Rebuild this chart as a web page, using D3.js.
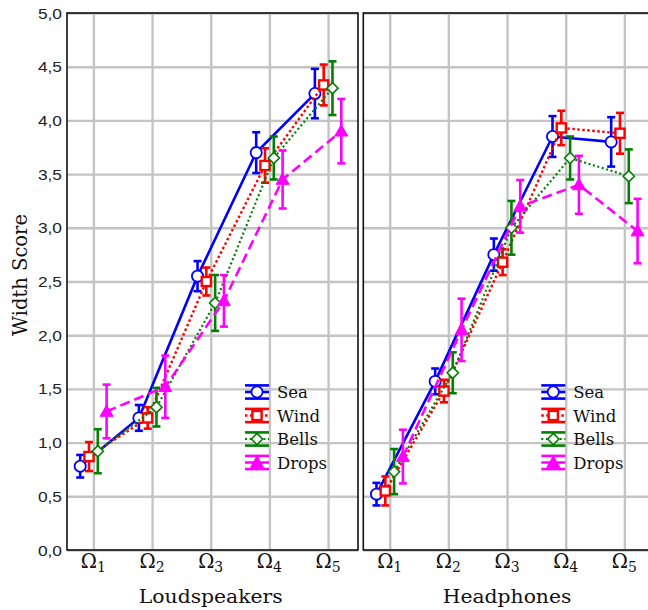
<!DOCTYPE html>
<html><head><meta charset="utf-8">
<script src="https://cdn.jsdelivr.net/npm/d3@7"></script>
<style>body{margin:0;background:#fff;} svg{display:block;}</style>
</head><body>
<svg id="chart" width="648" height="610"></svg>
<script>
// ---- data ----
const categories = ["1","2","3","4","5"]; // Ω subscripts
const panels = ["Loudspeakers","Headphones"];
const seriesNames = ["Sea","Wind","Bells","Drops"];
const yTicks = [0,0.5,1,1.5,2,2.5,3,3.5,4,4.5,5];

const loudSea   = [0.78, 1.23, 2.55, 3.70, 4.25];
const loudSeaErr= [0.105,0.12, 0.14, 0.19, 0.23];
const loudWind  = [0.87, 1.23, 2.50, 3.58, 4.33];
const loudWindErr=[0.135,0.10, 0.13, 0.16, 0.19];
const loudBells = [0.92, 1.33, 2.30, 3.65, 4.30];
const loudBellsErr=[0.205,0.18,0.26, 0.20, 0.25];
const loudDrops = [1.29, 1.52, 2.32, 3.45, 3.90];
const loudDropsErr=[0.25,0.29, 0.24, 0.27, 0.30];

const headSea   = [0.52, 1.57, 2.75, 3.85, 3.80];
const headSeaErr= [0.105,0.12, 0.15, 0.19, 0.23];
const headWind  = [0.55, 1.48, 2.68, 3.93, 3.88];
const headWindErr=[0.135,0.105,0.12, 0.16, 0.19];
const headBells = [0.73, 1.65, 3.00, 3.65, 3.48];
const headBellsErr=[0.21,0.19, 0.25, 0.20, 0.25];
const headDrops = [0.87, 2.05, 3.20, 3.40, 2.97];
const headDropsErr=[0.25,0.29, 0.245,0.27, 0.30];

const panelData = [
  [[loudSea,loudSeaErr],[loudWind,loudWindErr],[loudBells,loudBellsErr],[loudDrops,loudDropsErr]],
  [[headSea,headSeaErr],[headWind,headWindErr],[headBells,headBellsErr],[headDrops,headDropsErr]]
];

// ---- styles ----
const colors = ["#0000ff","#ff0000","#008000","#ff00ff"];
const dashes = [null,"2.5,2.5","2,2.6","10,5"];
const lineW  = [2.6,2.4,2.2,2.6];
const offsets= [-0.225,-0.075,0.075,0.225];
const markers= ["circle","square","diamond","triangle"];
const SERIF = "'DejaVu Serif', 'Liberation Serif', serif";
const SANS = "'Liberation Sans', Arial, sans-serif";

const svg = d3.select("#chart");
const plotTop = 13, plotBottom = 550, pw = 291;
const panelLeft = [67, 363.3];
const x = d3.scaleLinear().domain([0.55,5.51]).range([0,pw]);
const y = d3.scaleLinear().domain([0,5]).range([plotBottom,plotTop]);
const loc = d3.formatLocale({decimal:",",thousands:".",grouping:[3],currency:["",""]});
const fmt = loc.format(".1f");
const SX = 1.24;

function drawMarker(g, type, cx, cy, color){
  if(type==="circle"){
    g.append("circle").attr("cx",cx).attr("cy",cy).attr("r",5.6)
      .attr("fill","#fff").attr("stroke",color).attr("stroke-width",1.8);
  } else if(type==="square"){
    g.append("rect").attr("x",cx-4.6).attr("y",cy-4.6).attr("width",9.2).attr("height",9.2)
      .attr("fill","#fff").attr("stroke",color).attr("stroke-width",2.4);
  } else if(type==="diamond"){
    const r=5.6;
    g.append("path").attr("d",`M${cx},${cy-r}L${cx+r},${cy}L${cx},${cy+r}L${cx-r},${cy}Z`)
      .attr("fill","#fff").attr("stroke",color).attr("stroke-width",1.6);
  } else {
    const s=6.5;
    g.append("path").attr("d",`M${cx},${cy-s}L${cx+s},${cy+s*0.75}L${cx-s},${cy+s*0.75}Z`)
      .attr("fill",color).attr("stroke",color).attr("stroke-width",1);
  }
}

panels.forEach((pname, pi) => {
  const g = svg.append("g").attr("transform",`translate(${panelLeft[pi]},0)`);
  // grid
  g.append("g").attr("class","ygrid")
    .call(d3.axisLeft(y).tickValues(yTicks).tickSize(-pw).tickFormat(""))
    .call(s=>{s.select(".domain").remove(); s.selectAll("line").attr("stroke","#c4c4c4").attr("stroke-width",2.4);});
  g.append("g").attr("class","xgrid").attr("transform",`translate(0,${plotBottom})`)
    .call(d3.axisBottom(x).tickValues([1,2,3,4,5]).tickSize(-(plotBottom-plotTop)).tickFormat(""))
    .call(s=>{s.select(".domain").remove(); s.selectAll("line").attr("stroke","#c4c4c4").attr("stroke-width",2.4);});
  // frame
  g.append("rect").attr("x",0).attr("y",plotTop).attr("width",pw).attr("height",plotBottom-plotTop)
    .attr("fill","none").attr("stroke","#111").attr("stroke-width",1.6);

  // y tick labels only on left panel
  if(pi===0){
    const ya = g.append("g").call(d3.axisLeft(y).tickValues(yTicks).tickSize(0).tickPadding(0).tickFormat(fmt));
    ya.select(".domain").remove();
    ya.selectAll("text")
      .attr("x",-5/SX).attr("dy","0.36em")
      .attr("transform",`scale(${SX},1)`)
      .attr("font-family",SANS)
      .attr("font-size",14).attr("fill","#222");
  }

  // x tick labels (Ω_i)
  categories.forEach((c,i)=>{
    const t = g.append("text").attr("x",x(i+1)).attr("y",568)
      .attr("text-anchor","middle")
      .attr("font-family",SERIF).attr("fill","#111");
    t.append("tspan").attr("font-size",19.5).text("Ω");
    t.append("tspan").attr("font-size",14).attr("dy",4).text(c);
  });
  // panel x title
  g.append("text").attr("transform",`translate(${x(3)},603) scale(1.07,1)`)
    .attr("text-anchor","middle")
    .attr("font-family",SERIF)
    .attr("font-size",19).attr("fill","#111").text(pname);

  // series
  panelData[pi].forEach(([vals, errs], si)=>{
    const col = colors[si];
    const sg = g.append("g");
    const pts = vals.map((v,i)=>[x(i+1+offsets[si]), y(v)]);
    sg.append("path").attr("d",d3.line()(pts)).attr("fill","none")
      .attr("stroke",col).attr("stroke-width",lineW[si])
      .attr("stroke-dasharray",dashes[si]);
    vals.forEach((v,i)=>{
      const cx = x(i+1+offsets[si]);
      const y1 = y(v+errs[i]), y2 = y(v-errs[i]);
      sg.append("line").attr("x1",cx).attr("x2",cx).attr("y1",y1).attr("y2",y2)
        .attr("stroke",col).attr("stroke-width",2.6);
      [y1,y2].forEach(yy=>sg.append("line").attr("x1",cx-4).attr("x2",cx+4).attr("y1",yy).attr("y2",yy)
        .attr("stroke",col).attr("stroke-width",2.6));
      drawMarker(sg, markers[si], cx, y(v), col);
    });
  });

  // legend
  const lg = g.append("g").attr("transform","translate(178,392)");
  seriesNames.forEach((nm, si)=>{
    const col = colors[si];
    const ry = si*23.5;
    const row = lg.append("g").attr("transform",`translate(0,${ry})`);
    [-6.6,6.6].forEach(dy=>row.append("line").attr("x1",0).attr("x2",24).attr("y1",dy).attr("y2",dy)
      .attr("stroke",col).attr("stroke-width",2.6));
    row.append("line").attr("x1",12).attr("x2",12).attr("y1",-6.6).attr("y2",6.6)
      .attr("stroke",col).attr("stroke-width",2.6);
    row.append("line").attr("x1",0).attr("x2",24).attr("y1",0).attr("y2",0)
      .attr("stroke",col).attr("stroke-width",lineW[si]).attr("stroke-dasharray",dashes[si]);
    drawMarker(row, markers[si], 12, 0, col);
    row.append("text").attr("transform","translate(32,6)")
      .attr("font-family",SERIF)
      .attr("font-size",16.5).attr("fill","#111").text(nm);
  });
});

// y axis title
svg.append("text").attr("transform","translate(27,275) rotate(-90)")
  .attr("text-anchor","middle")
  .attr("font-family",SERIF)
  .attr("font-size",19.5).attr("fill","#111").text("Width Score");
</script>
</body></html>
